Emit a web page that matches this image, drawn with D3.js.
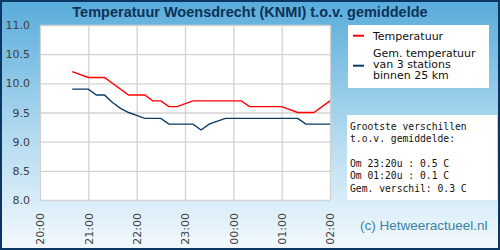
<!DOCTYPE html>
<html>
<head>
<meta charset="utf-8">
<script src="https://cdn.jsdelivr.net/npm/d3@7"></script>
<style>
  body { margin: 0; }
  svg { display: block; }
</style>
</head>
<body>
<div id="chart"></div>
<script>
// temperature readings (KNMI Woensdrecht) and mean of 3 nearby stations
const tempTimes = ['20:40', '21:00', '21:20', '21:50', '22:10', '22:20', '22:30', '22:40', '22:50',
  '23:10', '00:10', '00:20', '01:00', '01:20', '01:40', '02:00'];
const tempValues = [10.2, 10.1, 10.1, 9.8, 9.8, 9.7, 9.7, 9.6, 9.6,
  9.7, 9.7, 9.6, 9.6, 9.5, 9.5, 9.7];

const avgTimes = ['20:40', '21:00', '21:10', '21:20', '21:30', '21:40', '21:50', '22:00', '22:10',
  '22:30', '22:40', '23:10', '23:20', '23:30', '23:50', '01:20', '01:30', '02:00'];
const avgValues = [9.9, 9.9, 9.8, 9.8, 9.67, 9.57, 9.5, 9.45, 9.4,
  9.4, 9.3, 9.3, 9.2, 9.3, 9.4, 9.4, 9.3, 9.3];

const yTicks = [8.0, 8.5, 9.0, 9.5, 10.0, 10.5, 11.0];
const xTicks = ['20:00', '21:00', '22:00', '23:00', '00:00', '01:00', '02:00'];

const title = 'Temperatuur Woensdrecht (KNMI) t.o.v. gemiddelde';
const legendItems = [
  { lines: ['Temperatuur'], color: '#ff0000' },
  { lines: ['Gem. temperatuur', 'van 3 stations', 'binnen 25 km'], color: '#0b3a66' }
];
const statLines = ['Grootste verschillen', 't.o.v. gemiddelde:', '',
  'Om 23:20u : 0.5 C', 'Om 01:20u : 0.1 C', 'Gem. verschil: 0.3 C'];
const credit = '(c) Hetweeractueel.nl';

// times before noon belong to the next day
const toDate = s => {
  const [h, m] = s.split(':').map(Number);
  return new Date(2020, 0, h < 12 ? 2 : 1, h, m);
};

const width = 500;
const height = 250;
const plot = { left: 40, right: 330, top: 25, bottom: 200 };

const svg = d3.select('#chart')
  .append('svg')
  .attr('width', width)
  .attr('height', height);

// background gradient
const grad = svg.append('defs').append('linearGradient')
  .attr('id', 'bg')
  .attr('x1', 0).attr('y1', 0).attr('x2', 0).attr('y2', 1);
grad.append('stop').attr('offset', '0%').attr('stop-color', '#58acdb');
grad.append('stop').attr('offset', '55%').attr('stop-color', '#b4dbf0');
grad.append('stop').attr('offset', '100%').attr('stop-color', '#f3f9fd');

svg.append('rect')
  .attr('x', 1).attr('y', 1)
  .attr('width', width - 2).attr('height', height - 2)
  .attr('fill', 'url(#bg)')
  .attr('stroke', '#0b3563')
  .attr('stroke-width', 2);

svg.append('text')
  .attr('x', 250).attr('y', 17)
  .attr('text-anchor', 'middle')
  .style('font-family', 'Liberation Sans, Arial, sans-serif')
  .style('font-weight', 'bold')
  .style('font-size', '14.5px')
  .style('fill', '#0c3257')
  .text(title);

// scales
const x = d3.scaleTime()
  .domain([toDate('20:00'), toDate('02:00')])
  .range([plot.left, plot.right]);

const y = d3.scaleLinear()
  .domain([8, 11])
  .range([plot.bottom, plot.top]);

svg.append('rect')
  .attr('x', plot.left).attr('y', plot.top)
  .attr('width', plot.right - plot.left)
  .attr('height', plot.bottom - plot.top)
  .attr('fill', '#ffffff');

// y axis with grid
const yAxis = svg.append('g')
  .attr('transform', `translate(${plot.left},0)`)
  .call(d3.axisLeft(y)
    .tickValues(yTicks)
    .tickSize(-(plot.right - plot.left))
    .tickPadding(10)
    .tickFormat(d3.format('.1f')));
yAxis.select('.domain').remove();
yAxis.selectAll('line').attr('stroke', '#d2d2d2').attr('stroke-width', 1.3);
yAxis.selectAll('text')
  .style('font-family', 'DejaVu Sans, sans-serif')
  .style('font-size', '11px')
  .style('fill', '#404040');

// x axis with grid
const xAxis = svg.append('g')
  .attr('transform', `translate(0,${plot.bottom})`)
  .call(d3.axisBottom(x)
    .tickValues(xTicks.map(toDate))
    .tickSize(-(plot.bottom - plot.top))
    .tickFormat(d3.timeFormat('%H:%M')));
xAxis.select('.domain').remove();
xAxis.selectAll('line').attr('stroke', '#d2d2d2').attr('stroke-width', 1.3);
xAxis.selectAll('text')
  .attr('transform', 'rotate(-90)')
  .attr('text-anchor', 'end')
  .attr('x', -13)
  .attr('y', 0)
  .attr('dy', '0.36em')
  .style('font-family', 'DejaVu Sans, sans-serif')
  .style('font-size', '11px')
  .style('fill', '#404040');

// lines
const line = d3.line()
  .x(d => x(toDate(d.t)))
  .y(d => y(d.v));

const series = [
  { times: avgTimes, values: avgValues, color: '#0b3a66' },
  { times: tempTimes, values: tempValues, color: '#ff0000' }
];
series.forEach(s => {
  svg.append('path')
    .datum(s.times.map((t, i) => ({ t, v: s.values[i] })))
    .attr('d', line)
    .style('fill', 'none')
    .style('stroke', s.color)
    .style('stroke-width', 1.4);
});

// legend box
svg.append('rect')
  .attr('x', 348).attr('y', 25)
  .attr('width', 141).attr('height', 63)
  .attr('fill', '#ffffff');

const legendRows = [[35.7, 39.5], [65.7, 57]];
legendItems.forEach((item, i) => {
  const [ly, ty] = legendRows[i];
  svg.append('line')
    .attr('x1', 353).attr('x2', 364)
    .attr('y1', ly).attr('y2', ly)
    .attr('stroke', item.color)
    .attr('stroke-width', 2);
  item.lines.forEach((l, j) => {
    svg.append('text')
      .attr('x', 373).attr('y', ty + j * 11)
      .style('font-family', 'DejaVu Sans, sans-serif')
      .style('font-size', '11px')
      .style('fill', '#111')
      .text(l);
  });
});

// stats box
svg.append('rect')
  .attr('x', 347).attr('y', 115)
  .attr('width', 150).attr('height', 85)
  .attr('fill', '#ffffff');

statLines.forEach((l, i) => {
  svg.append('text')
    .attr('x', 350).attr('y', 130 + i * 12.3)
    .attr('xml:space', 'preserve')
    .style('white-space', 'pre')
    .style('font-family', 'DejaVu Sans Mono, monospace')
    .style('font-size', '9.7px')
    .style('fill', '#111')
    .text(l);
});

svg.append('text')
  .attr('x', 360).attr('y', 230)
  .style('font-family', 'Liberation Sans, Arial, sans-serif')
  .style('font-size', '13.5px')
  .style('fill', '#3a82a6')
  .text(credit);
</script>
</body>
</html>
